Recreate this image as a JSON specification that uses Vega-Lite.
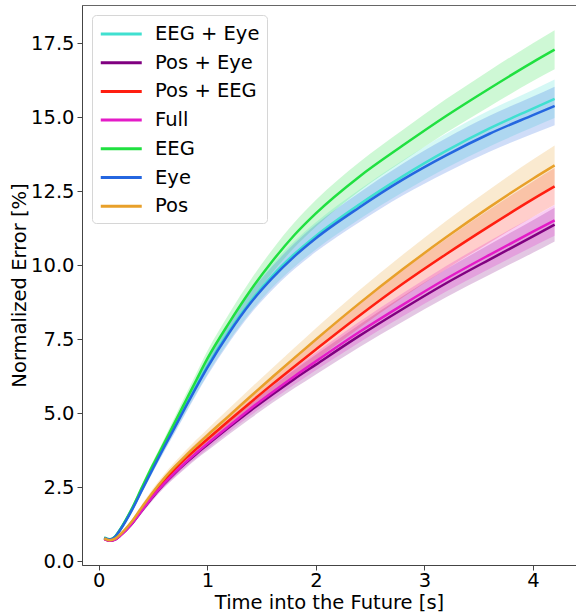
{
"$schema": "https://vega.github.io/schema/vega-lite/v6.json",
"width": 494, "height": 560,
"autosize": "none",
"padding": {"left": 82, "top": 5, "right": 0, "bottom": 51},
"config": {
  "font": "DejaVu Sans",
  "view": {"stroke": "#666", "strokeWidth": 1},
  "axis": {"grid": false, "domainColor": "#444", "tickColor": "#444", "labelColor": "#000", "titleColor": "#000", "labelFontSize": 19.5, "titleFontSize": 19.5, "titleFontWeight": "normal", "tickSize": 5, "labelPadding": 3}
},
"data": {"values": [
{"s":"EEG + Eye","t":0.05,"m":0.81,"e":0.03},{"s":"EEG + Eye","t":0.1,"m":0.75,"e":0.03},{"s":"EEG + Eye","t":0.15,"m":0.84,"e":0.03},{"s":"EEG + Eye","t":0.2,"m":1.1,"e":0.05},{"s":"EEG + Eye","t":0.3,"m":1.73,"e":0.07},{"s":"EEG + Eye","t":0.4,"m":2.46,"e":0.1},{"s":"EEG + Eye","t":0.5,"m":3.18,"e":0.13},{"s":"EEG + Eye","t":0.6,"m":3.89,"e":0.16},{"s":"EEG + Eye","t":0.7,"m":4.57,"e":0.19},{"s":"EEG + Eye","t":0.8,"m":5.26,"e":0.22},{"s":"EEG + Eye","t":0.9,"m":5.94,"e":0.25},{"s":"EEG + Eye","t":1.0,"m":6.6,"e":0.28},{"s":"EEG + Eye","t":1.2,"m":7.78,"e":0.33},{"s":"EEG + Eye","t":1.4,"m":8.8,"e":0.37},{"s":"EEG + Eye","t":1.6,"m":9.66,"e":0.40},{"s":"EEG + Eye","t":1.8,"m":10.38,"e":0.43},{"s":"EEG + Eye","t":2.0,"m":11.0,"e":0.46},{"s":"EEG + Eye","t":2.4,"m":12.06,"e":0.50},{"s":"EEG + Eye","t":2.8,"m":13.01,"e":0.54},{"s":"EEG + Eye","t":3.2,"m":13.87,"e":0.58},{"s":"EEG + Eye","t":3.6,"m":14.63,"e":0.61},{"s":"EEG + Eye","t":4.0,"m":15.3,"e":0.63},{"s":"EEG + Eye","t":4.2,"m":15.63,"e":0.65},
{"s":"Pos + Eye","t":0.05,"m":0.76,"e":0.04},{"s":"Pos + Eye","t":0.1,"m":0.70,"e":0.04},{"s":"Pos + Eye","t":0.15,"m":0.74,"e":0.04},{"s":"Pos + Eye","t":0.2,"m":0.88,"e":0.04},{"s":"Pos + Eye","t":0.3,"m":1.25,"e":0.06},{"s":"Pos + Eye","t":0.4,"m":1.73,"e":0.09},{"s":"Pos + Eye","t":0.5,"m":2.19,"e":0.11},{"s":"Pos + Eye","t":0.6,"m":2.61,"e":0.13},{"s":"Pos + Eye","t":0.7,"m":2.98,"e":0.15},{"s":"Pos + Eye","t":0.8,"m":3.32,"e":0.17},{"s":"Pos + Eye","t":0.9,"m":3.64,"e":0.18},{"s":"Pos + Eye","t":1.0,"m":3.94,"e":0.2},{"s":"Pos + Eye","t":1.2,"m":4.53,"e":0.23},{"s":"Pos + Eye","t":1.4,"m":5.1,"e":0.26},{"s":"Pos + Eye","t":1.6,"m":5.64,"e":0.28},{"s":"Pos + Eye","t":1.8,"m":6.16,"e":0.31},{"s":"Pos + Eye","t":2.0,"m":6.65,"e":0.33},{"s":"Pos + Eye","t":2.4,"m":7.62,"e":0.38},{"s":"Pos + Eye","t":2.8,"m":8.53,"e":0.43},{"s":"Pos + Eye","t":3.2,"m":9.4,"e":0.47},{"s":"Pos + Eye","t":3.6,"m":10.2,"e":0.51},{"s":"Pos + Eye","t":4.0,"m":10.98,"e":0.55},{"s":"Pos + Eye","t":4.2,"m":11.38,"e":0.57},
{"s":"Pos + EEG","t":0.05,"m":0.76,"e":0.04},{"s":"Pos + EEG","t":0.1,"m":0.71,"e":0.03},{"s":"Pos + EEG","t":0.15,"m":0.76,"e":0.04},{"s":"Pos + EEG","t":0.2,"m":0.90,"e":0.04},{"s":"Pos + EEG","t":0.3,"m":1.3,"e":0.06},{"s":"Pos + EEG","t":0.4,"m":1.8,"e":0.09},{"s":"Pos + EEG","t":0.5,"m":2.29,"e":0.11},{"s":"Pos + EEG","t":0.6,"m":2.73,"e":0.13},{"s":"Pos + EEG","t":0.7,"m":3.12,"e":0.15},{"s":"Pos + EEG","t":0.8,"m":3.48,"e":0.17},{"s":"Pos + EEG","t":0.9,"m":3.81,"e":0.19},{"s":"Pos + EEG","t":1.0,"m":4.13,"e":0.2},{"s":"Pos + EEG","t":1.2,"m":4.76,"e":0.23},{"s":"Pos + EEG","t":1.4,"m":5.38,"e":0.26},{"s":"Pos + EEG","t":1.6,"m":5.99,"e":0.29},{"s":"Pos + EEG","t":1.8,"m":6.58,"e":0.32},{"s":"Pos + EEG","t":2.0,"m":7.16,"e":0.35},{"s":"Pos + EEG","t":2.4,"m":8.3,"e":0.41},{"s":"Pos + EEG","t":2.8,"m":9.38,"e":0.46},{"s":"Pos + EEG","t":3.2,"m":10.38,"e":0.51},{"s":"Pos + EEG","t":3.6,"m":11.33,"e":0.56},{"s":"Pos + EEG","t":4.0,"m":12.24,"e":0.6},{"s":"Pos + EEG","t":4.2,"m":12.67,"e":0.62},
{"s":"Full","t":0.05,"m":0.76,"e":0.03},{"s":"Full","t":0.1,"m":0.70,"e":0.03},{"s":"Full","t":0.15,"m":0.74,"e":0.03},{"s":"Full","t":0.2,"m":0.88,"e":0.04},{"s":"Full","t":0.3,"m":1.26,"e":0.06},{"s":"Full","t":0.4,"m":1.74,"e":0.08},{"s":"Full","t":0.5,"m":2.21,"e":0.1},{"s":"Full","t":0.6,"m":2.63,"e":0.12},{"s":"Full","t":0.7,"m":3.0,"e":0.14},{"s":"Full","t":0.8,"m":3.35,"e":0.15},{"s":"Full","t":0.9,"m":3.67,"e":0.17},{"s":"Full","t":1.0,"m":3.98,"e":0.18},{"s":"Full","t":1.2,"m":4.58,"e":0.21},{"s":"Full","t":1.4,"m":5.17,"e":0.23},{"s":"Full","t":1.6,"m":5.72,"e":0.26},{"s":"Full","t":1.8,"m":6.25,"e":0.28},{"s":"Full","t":2.0,"m":6.76,"e":0.3},{"s":"Full","t":2.4,"m":7.75,"e":0.35},{"s":"Full","t":2.8,"m":8.67,"e":0.39},{"s":"Full","t":3.2,"m":9.55,"e":0.43},{"s":"Full","t":3.6,"m":10.36,"e":0.47},{"s":"Full","t":4.0,"m":11.14,"e":0.5},{"s":"Full","t":4.2,"m":11.52,"e":0.52},
{"s":"EEG","t":0.05,"m":0.80,"e":0.03},{"s":"EEG","t":0.1,"m":0.74,"e":0.03},{"s":"EEG","t":0.15,"m":0.84,"e":0.03},{"s":"EEG","t":0.2,"m":1.1,"e":0.04},{"s":"EEG","t":0.3,"m":1.75,"e":0.07},{"s":"EEG","t":0.4,"m":2.52,"e":0.10},{"s":"EEG","t":0.5,"m":3.27,"e":0.12},{"s":"EEG","t":0.6,"m":3.98,"e":0.15},{"s":"EEG","t":0.7,"m":4.7,"e":0.18},{"s":"EEG","t":0.8,"m":5.42,"e":0.21},{"s":"EEG","t":0.9,"m":6.14,"e":0.23},{"s":"EEG","t":1.0,"m":6.85,"e":0.26},{"s":"EEG","t":1.2,"m":8.06,"e":0.31},{"s":"EEG","t":1.4,"m":9.17,"e":0.35},{"s":"EEG","t":1.6,"m":10.15,"e":0.39},{"s":"EEG","t":1.8,"m":11.02,"e":0.42},{"s":"EEG","t":2.0,"m":11.76,"e":0.45},{"s":"EEG","t":2.4,"m":13.0,"e":0.49},{"s":"EEG","t":2.8,"m":14.05,"e":0.53},{"s":"EEG","t":3.2,"m":15.05,"e":0.57},{"s":"EEG","t":3.6,"m":15.98,"e":0.61},{"s":"EEG","t":4.0,"m":16.87,"e":0.64},{"s":"EEG","t":4.2,"m":17.29,"e":0.66},
{"s":"Eye","t":0.05,"m":0.80,"e":0.03},{"s":"Eye","t":0.1,"m":0.74,"e":0.03},{"s":"Eye","t":0.15,"m":0.83,"e":0.03},{"s":"Eye","t":0.2,"m":1.08,"e":0.05},{"s":"Eye","t":0.3,"m":1.7,"e":0.07},{"s":"Eye","t":0.4,"m":2.43,"e":0.1},{"s":"Eye","t":0.5,"m":3.15,"e":0.13},{"s":"Eye","t":0.6,"m":3.85,"e":0.16},{"s":"Eye","t":0.7,"m":4.53,"e":0.19},{"s":"Eye","t":0.8,"m":5.22,"e":0.22},{"s":"Eye","t":0.9,"m":5.9,"e":0.25},{"s":"Eye","t":1.0,"m":6.55,"e":0.28},{"s":"Eye","t":1.2,"m":7.72,"e":0.33},{"s":"Eye","t":1.4,"m":8.74,"e":0.37},{"s":"Eye","t":1.6,"m":9.58,"e":0.4},{"s":"Eye","t":1.8,"m":10.3,"e":0.43},{"s":"Eye","t":2.0,"m":10.92,"e":0.46},{"s":"Eye","t":2.4,"m":11.96,"e":0.5},{"s":"Eye","t":2.8,"m":12.9,"e":0.54},{"s":"Eye","t":3.2,"m":13.72,"e":0.58},{"s":"Eye","t":3.6,"m":14.45,"e":0.61},{"s":"Eye","t":4.0,"m":15.08,"e":0.63},{"s":"Eye","t":4.2,"m":15.39,"e":0.65},
{"s":"Pos","t":0.05,"m":0.78,"e":0.04},{"s":"Pos","t":0.1,"m":0.72,"e":0.04},{"s":"Pos","t":0.15,"m":0.77,"e":0.04},{"s":"Pos","t":0.2,"m":0.92,"e":0.05},{"s":"Pos","t":0.3,"m":1.33,"e":0.07},{"s":"Pos","t":0.4,"m":1.85,"e":0.09},{"s":"Pos","t":0.5,"m":2.35,"e":0.12},{"s":"Pos","t":0.6,"m":2.8,"e":0.14},{"s":"Pos","t":0.7,"m":3.2,"e":0.16},{"s":"Pos","t":0.8,"m":3.57,"e":0.18},{"s":"Pos","t":0.9,"m":3.92,"e":0.2},{"s":"Pos","t":1.0,"m":4.26,"e":0.21},{"s":"Pos","t":1.2,"m":4.92,"e":0.25},{"s":"Pos","t":1.4,"m":5.58,"e":0.28},{"s":"Pos","t":1.6,"m":6.23,"e":0.31},{"s":"Pos","t":1.8,"m":6.87,"e":0.34},{"s":"Pos","t":2.0,"m":7.5,"e":0.38},{"s":"Pos","t":2.4,"m":8.72,"e":0.44},{"s":"Pos","t":2.8,"m":9.87,"e":0.49},{"s":"Pos","t":3.2,"m":10.95,"e":0.55},{"s":"Pos","t":3.6,"m":11.97,"e":0.6},{"s":"Pos","t":4.0,"m":12.93,"e":0.65},{"s":"Pos","t":4.2,"m":13.38,"e":0.67}
]},
"encoding": {
  "x": {"field": "t", "type": "quantitative", "scale": {"domain": [-0.155, 4.397], "nice": false, "zero": false}, "axis": {"values": [0,1,2,3,4], "title": "Time into the Future [s]", "labelPadding": 1, "titlePadding": 4}}
},
"layer": [
  {"mark": {"type": "errorband", "interpolate": "monotone", "band": {"opacity": 0.22}, "borders": false},
   "encoding": {
     "y": {"field": "m", "type": "quantitative", "scale": {"domain": [-0.12, 18.8], "nice": false, "zero": false}, "axis": {"values": [0,2.5,5,7.5,10,12.5,15,17.5], "format": ".1f", "title": "Normalized Error [%]", "titlePadding": 1}},
     "yError": {"field": "e"},
     "color": {"field": "s", "type": "nominal", "scale": {"domain": ["EEG + Eye","Pos + Eye","Pos + EEG","Full","EEG","Eye","Pos"], "range": ["#40e0d0","#800080","#ff1e10","#e41bc7","#20e040","#2466e0","#e8a02a"]},
       "legend": {"title": null, "orient": "none", "legendX": 10, "legendY": 10, "strokeColor": "#d6d6d6", "fillColor": "#ffffff", "padding": 7, "cornerRadius": 4, "symbolType": "M-2,0H2", "symbolSize": 420, "symbolOffset": 10.25, "symbolStrokeWidth": 3, "symbolOpacity": 1, "labelFontSize": 19.5, "labelOffset": 21.8, "labelColor": "#000", "rowPadding": 6.7}}
   }},
  {"mark": {"type": "line", "interpolate": "monotone", "strokeWidth": 2.5},
   "encoding": {
     "y": {"field": "m", "type": "quantitative", "scale": {"domain": [-0.12, 18.8], "nice": false, "zero": false}, "axis": {"values": [0,2.5,5,7.5,10,12.5,15,17.5], "format": ".1f", "title": "Normalized Error [%]", "titlePadding": 1}},
     "color": {"field": "s", "type": "nominal", "scale": {"domain": ["EEG + Eye","Pos + Eye","Pos + EEG","Full","EEG","Eye","Pos"], "range": ["#40e0d0","#800080","#ff1e10","#e41bc7","#20e040","#2466e0","#e8a02a"]},
       "legend": {"title": null, "orient": "none", "legendX": 10, "legendY": 10, "strokeColor": "#d6d6d6", "fillColor": "#ffffff", "padding": 7, "cornerRadius": 4, "symbolType": "M-2,0H2", "symbolSize": 420, "symbolOffset": 10.25, "symbolStrokeWidth": 3, "symbolOpacity": 1, "labelFontSize": 19.5, "labelOffset": 21.8, "labelColor": "#000", "rowPadding": 6.7}}
   }}
]
}
